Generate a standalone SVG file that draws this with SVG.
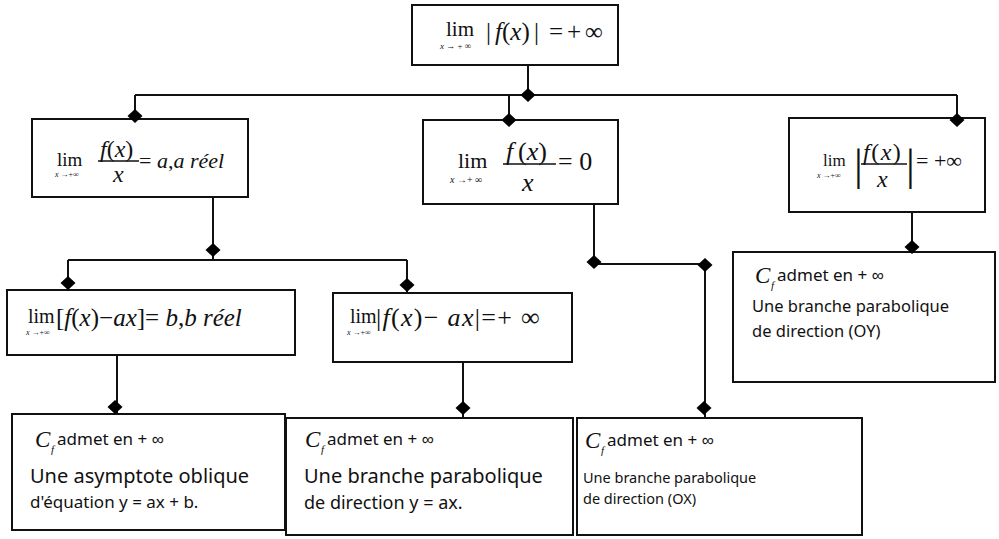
<svg xmlns="http://www.w3.org/2000/svg" width="999" height="539" viewBox="0 0 999 539">
<style>
.box{fill:#fff;stroke:#111;stroke-width:2}
.ln{stroke:#111;stroke-width:2;fill:none}
.dm{fill:#000}
.m{font-family:"Liberation Serif",serif;fill:#111}
.i{font-style:italic}
.t{font-family:"Noto Sans",sans-serif;fill:#111}
.fb{stroke:#111;stroke-width:1.3}
</style>
<defs>
<path id="d" d="M0,-7 L7.5,0 L0,7 L-7.5,0Z"/>
</defs>
<rect width="999" height="539" fill="#fff"/>

<g id="n-top">
<rect class="box" x="412" y="5" width="206" height="60"/>
<text class="m" x="446" y="36" font-size="21">lim</text>
<text class="m" x="440" y="49" font-size="9"><tspan class="i">x</tspan> → + ∞</text>
<text class="m" y="40" font-size="25"><tspan x="486">|</tspan><tspan x="495" class="i">f</tspan><tspan>(</tspan><tspan class="i">x</tspan><tspan>)</tspan><tspan x="534">|</tspan><tspan x="549">=</tspan><tspan x="567">+</tspan><tspan x="585">∞</tspan></text>
</g>

<g id="n-l2">
<rect class="box" x="32" y="119" width="216" height="78"/>
<text class="m" x="57" y="166" font-size="19">lim</text>
<text class="m" x="55" y="177" font-size="8"><tspan class="i">x</tspan> →+∞</text>
<text class="m" x="100" y="157" font-size="24"><tspan class="i">f</tspan>(<tspan class="i">x</tspan>)</text>
<line class="fb" x1="98" y1="161" x2="139" y2="161"/>
<text class="m i" x="113" y="182" font-size="24">x</text>
<text class="m" x="139" y="168" font-size="22">= <tspan class="i">a</tspan>,<tspan class="i">a réel</tspan></text>
</g>

<g id="n-m2">
<rect class="box" x="423" y="120" width="195" height="84"/>
<text class="m" x="458" y="168" font-size="22">lim</text>
<text class="m" x="450" y="183" font-size="10"><tspan class="i">x</tspan> →+ ∞</text>
<text class="m" y="160" font-size="26"><tspan x="506" class="i">f</tspan><tspan x="518">(</tspan><tspan class="i">x</tspan><tspan>)</tspan></text>
<line class="fb" x1="503" y1="164" x2="556" y2="164"/>
<text class="m i" x="522" y="191" font-size="26">x</text>
<text class="m" x="558" y="170" font-size="26">= 0</text>
</g>

<g id="n-r2">
<rect class="box" x="789" y="118" width="196" height="94"/>
<text class="m" x="823" y="166" font-size="17">lim</text>
<text class="m" x="817" y="178" font-size="8"><tspan class="i">x</tspan> →+∞</text>
<text class="m" x="854" y="180" font-size="44">|</text>
<text class="m" x="863" y="160" font-size="24" letter-spacing="1.5"><tspan class="i">f</tspan>(<tspan class="i">x</tspan>)</text>
<line class="fb" x1="861" y1="164" x2="907" y2="164"/>
<text class="m i" x="877" y="187" font-size="24">x</text>
<text class="m" x="906" y="180" font-size="44">|</text>
<text class="m" x="916" y="168" font-size="22">= +∞</text>
</g>

<g id="n-l3">
<rect class="box" x="7" y="290" width="288" height="65"/>
<text class="m" x="28" y="323" font-size="20">lim</text>
<text class="m" x="26" y="335" font-size="8"><tspan class="i">x</tspan> →+∞</text>
<text class="m" x="56" y="326" font-size="25">[<tspan class="i">f</tspan>(<tspan class="i">x</tspan>)−<tspan class="i">ax</tspan>]= <tspan class="i">b</tspan>,<tspan class="i">b réel</tspan></text>
</g>

<g id="n-m3">
<rect class="box" x="333" y="293" width="239" height="69"/>
<text class="m" x="350" y="323" font-size="20">lim</text>
<text class="m" x="347" y="335" font-size="8"><tspan class="i">x</tspan> →+∞</text>
<text class="m" x="376" y="326" font-size="26" letter-spacing="1.3">|<tspan class="i">f</tspan>(<tspan class="i">x</tspan>)− <tspan class="i">ax</tspan>|=+ ∞</text>
</g>

<g id="n-oy">
<rect class="box" x="733" y="252" width="262" height="130"/>
<text class="m i" x="755" y="283" font-size="23">C</text>
<text class="m i" x="771" y="289" font-size="11">f</text>
<text class="t" x="777" y="281" font-size="17">admet en + ∞</text>
<text class="t" x="752" y="312" font-size="16.5">Une branche parabolique</text>
<text class="t" x="752" y="337" font-size="16.5">de direction (OY)</text>
</g>

<g id="n-bl">
<rect class="box" x="12" y="414" width="273" height="116"/>
<text class="m i" x="35" y="447" font-size="23">C</text>
<text class="m i" x="51" y="453" font-size="11">f</text>
<text class="t" x="57" y="445" font-size="17">admet en + ∞</text>
<text class="t" x="30" y="483" font-size="20">Une asymptote oblique</text>
<text class="t" x="30" y="508" font-size="17">d'équation y = ax + b.</text>
</g>

<g id="n-bm">
<rect class="box" x="286" y="418" width="287" height="117"/>
<text class="m i" x="305" y="447" font-size="23">C</text>
<text class="m i" x="321" y="453" font-size="11">f</text>
<text class="t" x="327" y="445" font-size="17">admet en + ∞</text>
<text class="t" x="304" y="483" font-size="20">Une branche parabolique</text>
<text class="t" x="304" y="509" font-size="18">de direction y = ax.</text>
</g>

<g id="n-ox">
<rect class="box" x="577" y="418" width="285" height="117"/>
<text class="m i" x="585" y="448" font-size="23">C</text>
<text class="m i" x="601" y="454" font-size="11">f</text>
<text class="t" x="607" y="446" font-size="17">admet en + ∞</text>
<text class="t" x="583" y="483" font-size="14.5">Une branche parabolique</text>
<text class="t" x="583" y="504" font-size="14.5">de direction (OX)</text>
</g>

<g id="connectors">
<path class="ln" d="M528,65 V95 M135,95 H957 M135,95 V119 M509,95 V120 M957,95 V118 M213,197 V260 M68,260 H407 M68,260 V290 M407,260 V293 M117,355 V414 M463,362 V418 M594,204 V264 H705 V418 M912,212 V252"/>
<g class="dm">
<use href="#d" x="528" y="95"/>
<use href="#d" x="135" y="116"/>
<use href="#d" x="509" y="120"/>
<use href="#d" x="957" y="120"/>
<use href="#d" x="213" y="250"/>
<use href="#d" x="68" y="283"/>
<use href="#d" x="407" y="285"/>
<use href="#d" x="115" y="407"/>
<use href="#d" x="463" y="408"/>
<use href="#d" x="594" y="262"/>
<use href="#d" x="705" y="265"/>
<use href="#d" x="704" y="408"/>
<use href="#d" x="912" y="247"/>
</g>
</g>
</svg>
